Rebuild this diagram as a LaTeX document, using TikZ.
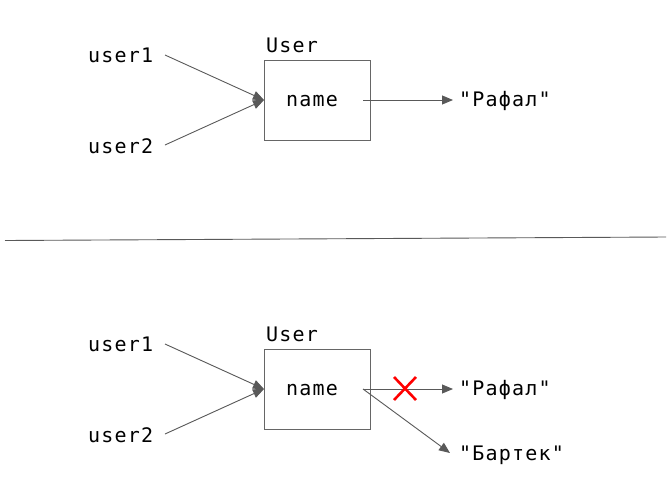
\documentclass[tikz,border=0pt]{standalone}
\usepackage{fontspec}
\newfontfamily\monofnt[LetterSpace=6]{DejaVu Sans Mono}
\usetikzlibrary{arrows.meta}
\begin{document}
\begin{tikzpicture}[x=1pt,y=-1pt,
  txt/.style={font=\monofnt\fontsize{20}{22}\selectfont, inner sep=0pt, anchor=west, text=black},
  boxst/.style={draw=black!60, line width=0.9pt, minimum width=106pt, minimum height=80pt, inner sep=0pt},
  conn/.style={draw=black!65, line width=0.9pt, -{Triangle[length=11pt,width=9pt]}},
  cross/.style={draw=red, line width=2.6pt}]
\path[use as bounding box, fill=white] (0,0) rectangle (672,496);

% top
\node[txt] (u1a) at (88,55) {user1};
\node[txt] (u2a) at (88,146) {user2};
\node[boxst] (boxa) at (317,100) {};
\node[txt] (usera) at (266,45) {User};
\node[txt, anchor=center] (namea) at (312,101) {name};
\node[txt] (rafa) at (459,101) {"Рафал"};
\coordinate (u1ea) at (165,55);
\coordinate (u2ea) at (165,145);
\coordinate (tipa) at (264,100);
\coordinate (sa) at (363,100);
\coordinate (ea) at (453,100);
\draw[conn] (u1ea) -- (tipa);
\draw[conn] (u2ea) -- (tipa);
\draw[conn] (sa) -- (ea);

% separator
\coordinate (sepl) at (5,240.5);
\coordinate (sepr) at (666,237);
\draw[draw=black!65, line width=0.9pt] (sepl) -- (sepr);

% bottom
\node[txt] (u1b) at (88,344) {user1};
\node[txt] (u2b) at (88,435) {user2};
\node[boxst] (boxb) at (317,389) {};
\node[txt] (userb) at (266,334) {User};
\node[txt, anchor=center] (nameb) at (312,390) {name};
\node[txt] (rafb) at (459,390) {"Рафал"};
\node[txt] (bart) at (459,455) {"Бартек"};
\coordinate (u1eb) at (165,344);
\coordinate (u2eb) at (165,434);
\coordinate (tipb) at (264,389);
\coordinate (sb) at (363,389);
\coordinate (eb) at (453,389);
\coordinate (eb2) at (450,453);
\draw[conn] (u1eb) -- (tipb);
\draw[conn] (u2eb) -- (tipb);
\draw[conn] (sb) -- (eb);
\draw[conn] (sb) -- (eb2);
\coordinate (xa) at (394,377);
\coordinate (xb) at (416,400);
\coordinate (xc) at (394,400);
\coordinate (xd) at (416,377);
\draw[cross] (xa) -- (xb);
\draw[cross] (xc) -- (xd);
\end{tikzpicture}
\end{document}
